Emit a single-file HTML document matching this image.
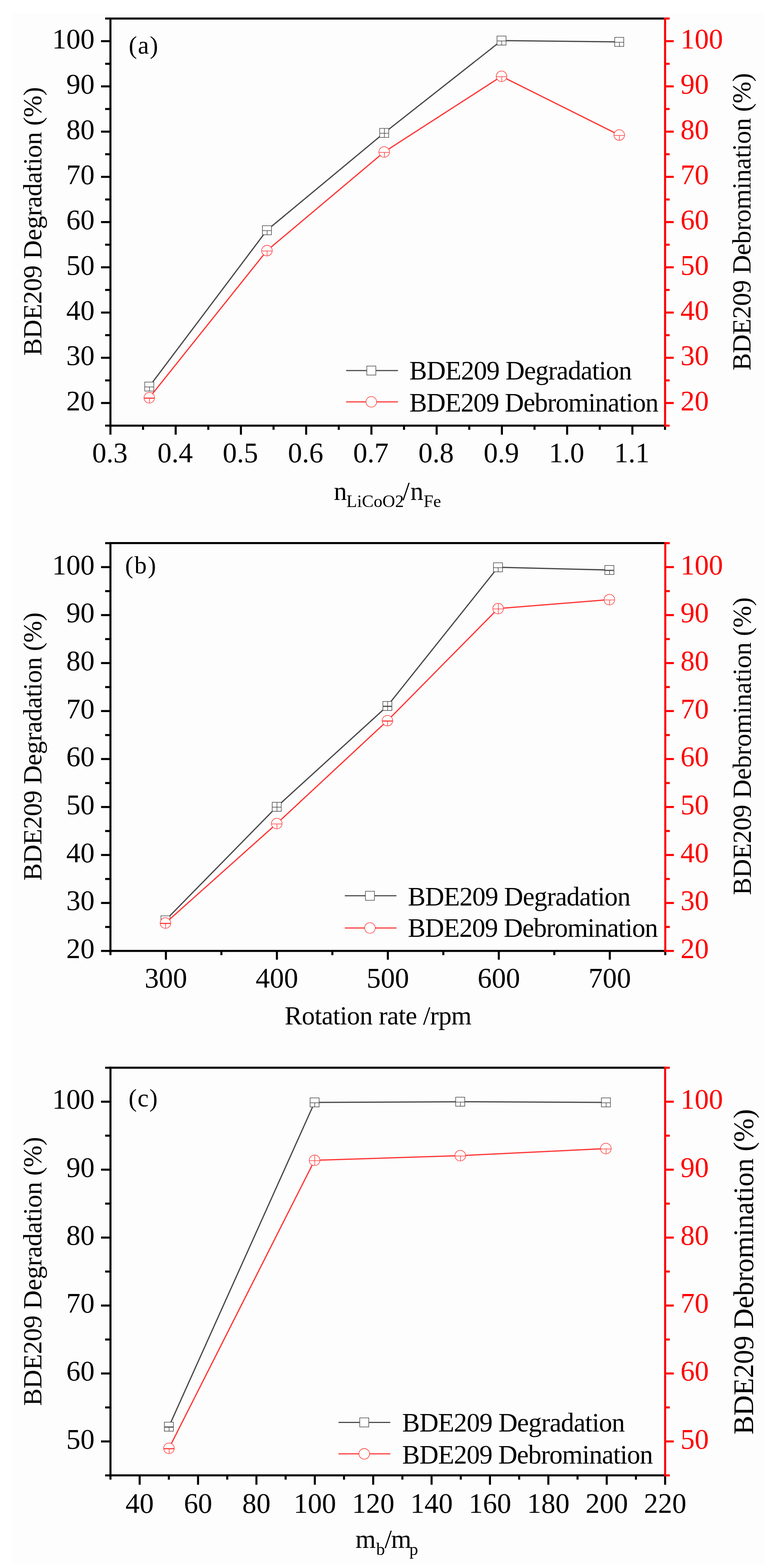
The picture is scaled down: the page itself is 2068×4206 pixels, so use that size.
<!DOCTYPE html>
<html lang="en">
<head>
<meta charset="utf-8">
<title>BDE209 degradation and debromination</title>
<style>
html,body{margin:0;padding:0;background:#fff;}
body{width:2068px;height:4206px;overflow:hidden;}
svg{display:block;}
text{font-family:'Liberation Serif','Times New Roman',serif;}
</style>
</head>
<body>
<svg width="2068" height="4206" viewBox="0 0 2068 4206" font-family="'Liberation Serif','Times New Roman',serif">
<rect width="2068" height="4206" fill="#fff"/>
<rect x="34" y="35" width="2018" height="4162" fill="#fdfdfd"/>
<polyline points="400.4,1036.9 716,617.6 1030.5,356.5 1345.2,108.8 1660.9,112.4" fill="none" stroke="#484848" stroke-width="3.3" stroke-linejoin="round"/>
<rect x="388.3" y="1024.8" width="24.2" height="24.2" fill="#fff" stroke="#484848" stroke-width="1.55"/>
<line x1="388.3" y1="1037.9" x2="412.5" y2="1037.9" stroke="#484848" stroke-width="1.55" stroke-linecap="butt"/>
<line x1="400.9" y1="1037.9" x2="400.9" y2="1049" stroke="#484848" stroke-width="1.55" stroke-linecap="butt"/>
<rect x="703.9" y="605.5" width="24.2" height="24.2" fill="#fff" stroke="#484848" stroke-width="1.55"/>
<line x1="703.9" y1="618.6" x2="728.1" y2="618.6" stroke="#484848" stroke-width="1.55" stroke-linecap="butt"/>
<line x1="716.5" y1="618.6" x2="716.5" y2="629.7" stroke="#484848" stroke-width="1.55" stroke-linecap="butt"/>
<rect x="1018.4" y="344.4" width="24.2" height="24.2" fill="#fff" stroke="#484848" stroke-width="1.55"/>
<line x1="1018.4" y1="357.5" x2="1042.6" y2="357.5" stroke="#484848" stroke-width="1.55" stroke-linecap="butt"/>
<line x1="1031" y1="344.4" x2="1031" y2="368.6" stroke="#484848" stroke-width="1.55" stroke-linecap="butt"/>
<rect x="1333.1" y="96.7" width="24.2" height="24.2" fill="#fff" stroke="#484848" stroke-width="1.55"/>
<line x1="1333.1" y1="109.8" x2="1357.3" y2="109.8" stroke="#484848" stroke-width="1.55" stroke-linecap="butt"/>
<line x1="1345.7" y1="109.8" x2="1345.7" y2="120.8" stroke="#484848" stroke-width="1.55" stroke-linecap="butt"/>
<rect x="1648.8" y="100.3" width="24.2" height="24.2" fill="#fff" stroke="#484848" stroke-width="1.55"/>
<line x1="1648.8" y1="113.4" x2="1673" y2="113.4" stroke="#484848" stroke-width="1.55" stroke-linecap="butt"/>
<line x1="1661.4" y1="113.4" x2="1661.4" y2="124.5" stroke="#484848" stroke-width="1.55" stroke-linecap="butt"/>
<polyline points="400.4,1067 716,672.3 1030.5,407.7 1345.2,204.7 1660.9,362.3" fill="none" stroke="#ff3636" stroke-width="3.3" stroke-linejoin="round"/>
<circle cx="400.4" cy="1067" r="14.2" fill="#fff" stroke="#ff3636" stroke-width="1.55"/>
<line x1="386.2" y1="1068" x2="414.6" y2="1068" stroke="#ff3636" stroke-width="3" stroke-linecap="butt"/>
<line x1="400.9" y1="1068" x2="400.9" y2="1081.2" stroke="#ff3636" stroke-width="1.55" stroke-linecap="butt"/>
<circle cx="716" cy="672.3" r="14.2" fill="#fff" stroke="#ff3636" stroke-width="1.55"/>
<line x1="701.8" y1="673.3" x2="730.2" y2="673.3" stroke="#ff3636" stroke-width="1.55" stroke-linecap="butt"/>
<line x1="716.5" y1="673.3" x2="716.5" y2="686.5" stroke="#ff3636" stroke-width="1.55" stroke-linecap="butt"/>
<circle cx="1030.5" cy="407.7" r="14.2" fill="#fff" stroke="#ff3636" stroke-width="1.55"/>
<line x1="1016.3" y1="408.7" x2="1044.7" y2="408.7" stroke="#ff3636" stroke-width="1.55" stroke-linecap="butt"/>
<line x1="1031" y1="408.7" x2="1031" y2="421.9" stroke="#ff3636" stroke-width="1.55" stroke-linecap="butt"/>
<circle cx="1345.2" cy="204.7" r="14.2" fill="#fff" stroke="#ff3636" stroke-width="1.55"/>
<line x1="1331" y1="205.7" x2="1359.5" y2="205.7" stroke="#ff3636" stroke-width="1.55" stroke-linecap="butt"/>
<line x1="1345.8" y1="205.7" x2="1345.8" y2="218.9" stroke="#ff3636" stroke-width="1.55" stroke-linecap="butt"/>
<circle cx="1660.9" cy="362.3" r="14.2" fill="#fff" stroke="#ff3636" stroke-width="1.55"/>
<line x1="1646.7" y1="363.3" x2="1675.1" y2="363.3" stroke="#ff3636" stroke-width="1.55" stroke-linecap="butt"/>
<line x1="1661.4" y1="363.3" x2="1661.4" y2="376.5" stroke="#ff3636" stroke-width="1.55" stroke-linecap="butt"/>
<line x1="293.4" y1="49.8" x2="1783.9" y2="49.8" stroke="#000" stroke-width="5.5" stroke-linecap="butt"/>
<line x1="293.4" y1="1141.7" x2="1783.9" y2="1141.7" stroke="#000" stroke-width="5.5" stroke-linecap="butt"/>
<line x1="296.2" y1="47" x2="296.2" y2="1144.5" stroke="#000" stroke-width="5.5" stroke-linecap="butt"/>
<line x1="271" y1="1081" x2="296.2" y2="1081" stroke="#000" stroke-width="5.5" stroke-linecap="butt"/>
<line x1="271" y1="959.7" x2="296.2" y2="959.7" stroke="#000" stroke-width="5.5" stroke-linecap="butt"/>
<line x1="271" y1="838.4" x2="296.2" y2="838.4" stroke="#000" stroke-width="5.5" stroke-linecap="butt"/>
<line x1="271" y1="717" x2="296.2" y2="717" stroke="#000" stroke-width="5.5" stroke-linecap="butt"/>
<line x1="271" y1="595.7" x2="296.2" y2="595.7" stroke="#000" stroke-width="5.5" stroke-linecap="butt"/>
<line x1="271" y1="474.4" x2="296.2" y2="474.4" stroke="#000" stroke-width="5.5" stroke-linecap="butt"/>
<line x1="271" y1="353.1" x2="296.2" y2="353.1" stroke="#000" stroke-width="5.5" stroke-linecap="butt"/>
<line x1="271" y1="231.7" x2="296.2" y2="231.7" stroke="#000" stroke-width="5.5" stroke-linecap="butt"/>
<line x1="271" y1="110.4" x2="296.2" y2="110.4" stroke="#000" stroke-width="5.5" stroke-linecap="butt"/>
<line x1="282" y1="1141.7" x2="296.2" y2="1141.7" stroke="#000" stroke-width="5.5" stroke-linecap="butt"/>
<line x1="282" y1="1020.4" x2="296.2" y2="1020.4" stroke="#000" stroke-width="5.5" stroke-linecap="butt"/>
<line x1="282" y1="899" x2="296.2" y2="899" stroke="#000" stroke-width="5.5" stroke-linecap="butt"/>
<line x1="282" y1="777.7" x2="296.2" y2="777.7" stroke="#000" stroke-width="5.5" stroke-linecap="butt"/>
<line x1="282" y1="656.4" x2="296.2" y2="656.4" stroke="#000" stroke-width="5.5" stroke-linecap="butt"/>
<line x1="282" y1="535.1" x2="296.2" y2="535.1" stroke="#000" stroke-width="5.5" stroke-linecap="butt"/>
<line x1="282" y1="413.7" x2="296.2" y2="413.7" stroke="#000" stroke-width="5.5" stroke-linecap="butt"/>
<line x1="282" y1="292.4" x2="296.2" y2="292.4" stroke="#000" stroke-width="5.5" stroke-linecap="butt"/>
<line x1="282" y1="171.1" x2="296.2" y2="171.1" stroke="#000" stroke-width="5.5" stroke-linecap="butt"/>
<line x1="282" y1="49.7" x2="296.2" y2="49.7" stroke="#000" stroke-width="5.5" stroke-linecap="butt"/>
<line x1="296.2" y1="1141.7" x2="296.2" y2="1166" stroke="#000" stroke-width="5.5" stroke-linecap="butt"/>
<line x1="471.2" y1="1141.7" x2="471.2" y2="1166" stroke="#000" stroke-width="5.5" stroke-linecap="butt"/>
<line x1="646.2" y1="1141.7" x2="646.2" y2="1166" stroke="#000" stroke-width="5.5" stroke-linecap="butt"/>
<line x1="821.2" y1="1141.7" x2="821.2" y2="1166" stroke="#000" stroke-width="5.5" stroke-linecap="butt"/>
<line x1="996.2" y1="1141.7" x2="996.2" y2="1166" stroke="#000" stroke-width="5.5" stroke-linecap="butt"/>
<line x1="1171.2" y1="1141.7" x2="1171.2" y2="1166" stroke="#000" stroke-width="5.5" stroke-linecap="butt"/>
<line x1="1346.2" y1="1141.7" x2="1346.2" y2="1166" stroke="#000" stroke-width="5.5" stroke-linecap="butt"/>
<line x1="1521.2" y1="1141.7" x2="1521.2" y2="1166" stroke="#000" stroke-width="5.5" stroke-linecap="butt"/>
<line x1="1696.2" y1="1141.7" x2="1696.2" y2="1166" stroke="#000" stroke-width="5.5" stroke-linecap="butt"/>
<line x1="383.7" y1="1141.7" x2="383.7" y2="1153" stroke="#000" stroke-width="5.5" stroke-linecap="butt"/>
<line x1="558.7" y1="1141.7" x2="558.7" y2="1153" stroke="#000" stroke-width="5.5" stroke-linecap="butt"/>
<line x1="733.7" y1="1141.7" x2="733.7" y2="1153" stroke="#000" stroke-width="5.5" stroke-linecap="butt"/>
<line x1="908.7" y1="1141.7" x2="908.7" y2="1153" stroke="#000" stroke-width="5.5" stroke-linecap="butt"/>
<line x1="1083.7" y1="1141.7" x2="1083.7" y2="1153" stroke="#000" stroke-width="5.5" stroke-linecap="butt"/>
<line x1="1258.7" y1="1141.7" x2="1258.7" y2="1153" stroke="#000" stroke-width="5.5" stroke-linecap="butt"/>
<line x1="1433.7" y1="1141.7" x2="1433.7" y2="1153" stroke="#000" stroke-width="5.5" stroke-linecap="butt"/>
<line x1="1608.7" y1="1141.7" x2="1608.7" y2="1153" stroke="#000" stroke-width="5.5" stroke-linecap="butt"/>
<line x1="1783.7" y1="1141.7" x2="1783.7" y2="1153" stroke="#000" stroke-width="5.5" stroke-linecap="butt"/>
<line x1="1783.9" y1="47" x2="1783.9" y2="1144.5" stroke="#ff0000" stroke-width="5.5" stroke-linecap="butt"/>
<line x1="1783.9" y1="1081" x2="1807.1" y2="1081" stroke="#ff0000" stroke-width="5.5" stroke-linecap="butt"/>
<line x1="1783.9" y1="959.7" x2="1807.1" y2="959.7" stroke="#ff0000" stroke-width="5.5" stroke-linecap="butt"/>
<line x1="1783.9" y1="838.4" x2="1807.1" y2="838.4" stroke="#ff0000" stroke-width="5.5" stroke-linecap="butt"/>
<line x1="1783.9" y1="717" x2="1807.1" y2="717" stroke="#ff0000" stroke-width="5.5" stroke-linecap="butt"/>
<line x1="1783.9" y1="595.7" x2="1807.1" y2="595.7" stroke="#ff0000" stroke-width="5.5" stroke-linecap="butt"/>
<line x1="1783.9" y1="474.4" x2="1807.1" y2="474.4" stroke="#ff0000" stroke-width="5.5" stroke-linecap="butt"/>
<line x1="1783.9" y1="353.1" x2="1807.1" y2="353.1" stroke="#ff0000" stroke-width="5.5" stroke-linecap="butt"/>
<line x1="1783.9" y1="231.7" x2="1807.1" y2="231.7" stroke="#ff0000" stroke-width="5.5" stroke-linecap="butt"/>
<line x1="1783.9" y1="110.4" x2="1807.1" y2="110.4" stroke="#ff0000" stroke-width="5.5" stroke-linecap="butt"/>
<line x1="1783.9" y1="1141.7" x2="1796.1" y2="1141.7" stroke="#ff0000" stroke-width="5.5" stroke-linecap="butt"/>
<line x1="1783.9" y1="1020.4" x2="1796.1" y2="1020.4" stroke="#ff0000" stroke-width="5.5" stroke-linecap="butt"/>
<line x1="1783.9" y1="899" x2="1796.1" y2="899" stroke="#ff0000" stroke-width="5.5" stroke-linecap="butt"/>
<line x1="1783.9" y1="777.7" x2="1796.1" y2="777.7" stroke="#ff0000" stroke-width="5.5" stroke-linecap="butt"/>
<line x1="1783.9" y1="656.4" x2="1796.1" y2="656.4" stroke="#ff0000" stroke-width="5.5" stroke-linecap="butt"/>
<line x1="1783.9" y1="535.1" x2="1796.1" y2="535.1" stroke="#ff0000" stroke-width="5.5" stroke-linecap="butt"/>
<line x1="1783.9" y1="413.7" x2="1796.1" y2="413.7" stroke="#ff0000" stroke-width="5.5" stroke-linecap="butt"/>
<line x1="1783.9" y1="292.4" x2="1796.1" y2="292.4" stroke="#ff0000" stroke-width="5.5" stroke-linecap="butt"/>
<line x1="1783.9" y1="171.1" x2="1796.1" y2="171.1" stroke="#ff0000" stroke-width="5.5" stroke-linecap="butt"/>
<line x1="1783.9" y1="49.7" x2="1796.1" y2="49.7" stroke="#ff0000" stroke-width="5.5" stroke-linecap="butt"/>
<text x="253.8" y="1100.6" font-size="76" text-anchor="end">20</text>
<text x="1825.2" y="1100.6" font-size="76" fill="#ff0000">20</text>
<text x="253.8" y="979.3" font-size="76" text-anchor="end">30</text>
<text x="1825.2" y="979.3" font-size="76" fill="#ff0000">30</text>
<text x="253.8" y="858" font-size="76" text-anchor="end">40</text>
<text x="1825.2" y="858" font-size="76" fill="#ff0000">40</text>
<text x="253.8" y="736.6" font-size="76" text-anchor="end">50</text>
<text x="1825.2" y="736.6" font-size="76" fill="#ff0000">50</text>
<text x="253.8" y="615.3" font-size="76" text-anchor="end">60</text>
<text x="1825.2" y="615.3" font-size="76" fill="#ff0000">60</text>
<text x="253.8" y="494" font-size="76" text-anchor="end">70</text>
<text x="1825.2" y="494" font-size="76" fill="#ff0000">70</text>
<text x="253.8" y="372.7" font-size="76" text-anchor="end">80</text>
<text x="1825.2" y="372.7" font-size="76" fill="#ff0000">80</text>
<text x="253.8" y="251.3" font-size="76" text-anchor="end">90</text>
<text x="1825.2" y="251.3" font-size="76" fill="#ff0000">90</text>
<text x="253.8" y="130" font-size="76" text-anchor="end">100</text>
<text x="1825.2" y="130" font-size="76" fill="#ff0000">100</text>
<text x="294.7" y="1240.3" font-size="76" text-anchor="middle">0.3</text>
<text x="469.7" y="1240.3" font-size="76" text-anchor="middle">0.4</text>
<text x="644.7" y="1240.3" font-size="76" text-anchor="middle">0.5</text>
<text x="819.7" y="1240.3" font-size="76" text-anchor="middle">0.6</text>
<text x="994.7" y="1240.3" font-size="76" text-anchor="middle">0.7</text>
<text x="1169.7" y="1240.3" font-size="76" text-anchor="middle">0.8</text>
<text x="1344.7" y="1240.3" font-size="76" text-anchor="middle">0.9</text>
<text x="1519.7" y="1240.3" font-size="76" text-anchor="middle">1.0</text>
<text x="1694.7" y="1240.3" font-size="76" text-anchor="middle">1.1</text>
<line x1="928.4" y1="994" x2="1067.4" y2="994" stroke="#484848" stroke-width="3" stroke-linecap="butt"/>
<rect x="983.9" y="981.9" width="24.2" height="24.2" fill="#fff" stroke="#484848" stroke-width="1.55"/>
<line x1="928.4" y1="1078" x2="1067.4" y2="1078" stroke="#ff3636" stroke-width="3" stroke-linecap="butt"/>
<circle cx="996" cy="1078" r="14.2" fill="#fff" stroke="#ff3636" stroke-width="1.55"/>
<text x="1098" y="1017.7" font-size="71" textLength="596.9" lengthAdjust="spacing">BDE209 Degradation</text>
<text x="1098" y="1104.1" font-size="71" textLength="668.5" lengthAdjust="spacing">BDE209 Debromination</text>
<text x="345.3" y="143.5" font-size="67" textLength="78.7" lengthAdjust="spacing">(a)</text>
<text transform="translate(110.8,954.1) rotate(-90)" font-size="70" textLength="720.7" lengthAdjust="spacing">BDE209 Degradation (%)</text>
<text transform="translate(2013.3,993.7) rotate(-90)" font-size="70" textLength="797.7" lengthAdjust="spacing">BDE209 Debromination (%)</text>
<text x="895.6" y="1341.2" font-size="70">n</text>
<text x="929.1" y="1359.7" font-size="47">LiCoO2</text>
<text x="1079.5" y="1341.2" font-size="70">/</text>
<text x="1100.7" y="1341.2" font-size="70">n</text>
<text x="1136.2" y="1359.7" font-size="47">Fe</text>
<polyline points="443.8,2468.7 742.3,2164.2 1039.1,1893.7 1335.7,1521.7 1634.5,1529" fill="none" stroke="#484848" stroke-width="3.3" stroke-linejoin="round"/>
<rect x="431.7" y="2456.6" width="24.2" height="24.2" fill="#fff" stroke="#484848" stroke-width="1.55"/>
<line x1="431.7" y1="2469.7" x2="455.9" y2="2469.7" stroke="#484848" stroke-width="1.55" stroke-linecap="butt"/>
<line x1="444.3" y1="2469.7" x2="444.3" y2="2480.8" stroke="#484848" stroke-width="1.55" stroke-linecap="butt"/>
<rect x="730.2" y="2152.1" width="24.2" height="24.2" fill="#fff" stroke="#484848" stroke-width="1.55"/>
<line x1="730.2" y1="2165.2" x2="754.4" y2="2165.2" stroke="#484848" stroke-width="1.55" stroke-linecap="butt"/>
<line x1="742.8" y1="2152.1" x2="742.8" y2="2176.3" stroke="#484848" stroke-width="1.55" stroke-linecap="butt"/>
<rect x="1027" y="1881.6" width="24.2" height="24.2" fill="#fff" stroke="#484848" stroke-width="1.55"/>
<line x1="1027" y1="1894.7" x2="1051.2" y2="1894.7" stroke="#484848" stroke-width="3" stroke-linecap="butt"/>
<line x1="1039.6" y1="1881.6" x2="1039.6" y2="1905.8" stroke="#484848" stroke-width="1.55" stroke-linecap="butt"/>
<rect x="1323.6" y="1509.6" width="24.2" height="24.2" fill="#fff" stroke="#484848" stroke-width="1.55"/>
<line x1="1323.6" y1="1522.7" x2="1347.8" y2="1522.7" stroke="#484848" stroke-width="1.55" stroke-linecap="butt"/>
<line x1="1336.2" y1="1522.7" x2="1336.2" y2="1533.8" stroke="#484848" stroke-width="1.55" stroke-linecap="butt"/>
<rect x="1622.4" y="1516.9" width="24.2" height="24.2" fill="#fff" stroke="#484848" stroke-width="1.55"/>
<line x1="1622.4" y1="1530" x2="1646.6" y2="1530" stroke="#484848" stroke-width="3" stroke-linecap="butt"/>
<line x1="1635" y1="1530" x2="1635" y2="1541.1" stroke="#484848" stroke-width="1.55" stroke-linecap="butt"/>
<polyline points="443.8,2476 742.3,2209.2 1039.2,1933.1 1336.1,1632.4 1634.5,1608.4" fill="none" stroke="#ff3636" stroke-width="3.3" stroke-linejoin="round"/>
<circle cx="443.8" cy="2476" r="14.2" fill="#fff" stroke="#ff3636" stroke-width="1.55"/>
<line x1="429.6" y1="2477" x2="458" y2="2477" stroke="#ff3636" stroke-width="3" stroke-linecap="butt"/>
<line x1="444.3" y1="2477" x2="444.3" y2="2490.2" stroke="#ff3636" stroke-width="1.55" stroke-linecap="butt"/>
<circle cx="742.3" cy="2209.2" r="14.2" fill="#fff" stroke="#ff3636" stroke-width="1.55"/>
<line x1="728.1" y1="2210.2" x2="756.5" y2="2210.2" stroke="#ff3636" stroke-width="1.55" stroke-linecap="butt"/>
<line x1="742.8" y1="2210.2" x2="742.8" y2="2223.4" stroke="#ff3636" stroke-width="1.55" stroke-linecap="butt"/>
<circle cx="1039.2" cy="1933.1" r="14.2" fill="#fff" stroke="#ff3636" stroke-width="1.55"/>
<line x1="1025" y1="1934.1" x2="1053.4" y2="1934.1" stroke="#ff3636" stroke-width="3" stroke-linecap="butt"/>
<line x1="1039.7" y1="1934.1" x2="1039.7" y2="1947.3" stroke="#ff3636" stroke-width="1.55" stroke-linecap="butt"/>
<circle cx="1336.1" cy="1632.4" r="14.2" fill="#fff" stroke="#ff3636" stroke-width="1.55"/>
<line x1="1321.9" y1="1633.4" x2="1350.3" y2="1633.4" stroke="#ff3636" stroke-width="1.55" stroke-linecap="butt"/>
<line x1="1336.6" y1="1618.2" x2="1336.6" y2="1646.6" stroke="#ff3636" stroke-width="1.55" stroke-linecap="butt"/>
<circle cx="1634.5" cy="1608.4" r="14.2" fill="#fff" stroke="#ff3636" stroke-width="1.55"/>
<line x1="1620.3" y1="1609.4" x2="1648.7" y2="1609.4" stroke="#ff3636" stroke-width="1.55" stroke-linecap="butt"/>
<line x1="1635" y1="1609.4" x2="1635" y2="1622.6" stroke="#ff3636" stroke-width="1.55" stroke-linecap="butt"/>
<line x1="293.4" y1="1456.7" x2="1784.4" y2="1456.7" stroke="#000" stroke-width="5.5" stroke-linecap="butt"/>
<line x1="293.4" y1="2550.8" x2="1784.4" y2="2550.8" stroke="#000" stroke-width="5.5" stroke-linecap="butt"/>
<line x1="296.2" y1="1454" x2="296.2" y2="2553.6" stroke="#000" stroke-width="5.5" stroke-linecap="butt"/>
<line x1="271" y1="2550.8" x2="296.2" y2="2550.8" stroke="#000" stroke-width="5.5" stroke-linecap="butt"/>
<line x1="271" y1="2422.1" x2="296.2" y2="2422.1" stroke="#000" stroke-width="5.5" stroke-linecap="butt"/>
<line x1="271" y1="2293.4" x2="296.2" y2="2293.4" stroke="#000" stroke-width="5.5" stroke-linecap="butt"/>
<line x1="271" y1="2164.7" x2="296.2" y2="2164.7" stroke="#000" stroke-width="5.5" stroke-linecap="butt"/>
<line x1="271" y1="2036" x2="296.2" y2="2036" stroke="#000" stroke-width="5.5" stroke-linecap="butt"/>
<line x1="271" y1="1907.3" x2="296.2" y2="1907.3" stroke="#000" stroke-width="5.5" stroke-linecap="butt"/>
<line x1="271" y1="1778.6" x2="296.2" y2="1778.6" stroke="#000" stroke-width="5.5" stroke-linecap="butt"/>
<line x1="271" y1="1649.9" x2="296.2" y2="1649.9" stroke="#000" stroke-width="5.5" stroke-linecap="butt"/>
<line x1="271" y1="1521.2" x2="296.2" y2="1521.2" stroke="#000" stroke-width="5.5" stroke-linecap="butt"/>
<line x1="282" y1="2486.5" x2="296.2" y2="2486.5" stroke="#000" stroke-width="5.5" stroke-linecap="butt"/>
<line x1="282" y1="2357.8" x2="296.2" y2="2357.8" stroke="#000" stroke-width="5.5" stroke-linecap="butt"/>
<line x1="282" y1="2229.1" x2="296.2" y2="2229.1" stroke="#000" stroke-width="5.5" stroke-linecap="butt"/>
<line x1="282" y1="2100.4" x2="296.2" y2="2100.4" stroke="#000" stroke-width="5.5" stroke-linecap="butt"/>
<line x1="282" y1="1971.7" x2="296.2" y2="1971.7" stroke="#000" stroke-width="5.5" stroke-linecap="butt"/>
<line x1="282" y1="1843" x2="296.2" y2="1843" stroke="#000" stroke-width="5.5" stroke-linecap="butt"/>
<line x1="282" y1="1714.3" x2="296.2" y2="1714.3" stroke="#000" stroke-width="5.5" stroke-linecap="butt"/>
<line x1="282" y1="1585.6" x2="296.2" y2="1585.6" stroke="#000" stroke-width="5.5" stroke-linecap="butt"/>
<line x1="282" y1="1456.9" x2="296.2" y2="1456.9" stroke="#000" stroke-width="5.5" stroke-linecap="butt"/>
<line x1="445" y1="2550.8" x2="445" y2="2574.3" stroke="#000" stroke-width="5.5" stroke-linecap="butt"/>
<line x1="742.7" y1="2550.8" x2="742.7" y2="2574.3" stroke="#000" stroke-width="5.5" stroke-linecap="butt"/>
<line x1="1040.3" y1="2550.8" x2="1040.3" y2="2574.3" stroke="#000" stroke-width="5.5" stroke-linecap="butt"/>
<line x1="1337.9" y1="2550.8" x2="1337.9" y2="2574.3" stroke="#000" stroke-width="5.5" stroke-linecap="butt"/>
<line x1="1635.6" y1="2550.8" x2="1635.6" y2="2574.3" stroke="#000" stroke-width="5.5" stroke-linecap="butt"/>
<line x1="296.2" y1="2550.8" x2="296.2" y2="2562.1" stroke="#000" stroke-width="5.5" stroke-linecap="butt"/>
<line x1="593.8" y1="2550.8" x2="593.8" y2="2562.1" stroke="#000" stroke-width="5.5" stroke-linecap="butt"/>
<line x1="891.5" y1="2550.8" x2="891.5" y2="2562.1" stroke="#000" stroke-width="5.5" stroke-linecap="butt"/>
<line x1="1189.1" y1="2550.8" x2="1189.1" y2="2562.1" stroke="#000" stroke-width="5.5" stroke-linecap="butt"/>
<line x1="1486.8" y1="2550.8" x2="1486.8" y2="2562.1" stroke="#000" stroke-width="5.5" stroke-linecap="butt"/>
<line x1="1784.4" y1="2550.8" x2="1784.4" y2="2562.1" stroke="#000" stroke-width="5.5" stroke-linecap="butt"/>
<line x1="1784.4" y1="1454" x2="1784.4" y2="2553.6" stroke="#ff0000" stroke-width="5.5" stroke-linecap="butt"/>
<line x1="1784.4" y1="2550.8" x2="1807.6" y2="2550.8" stroke="#ff0000" stroke-width="5.5" stroke-linecap="butt"/>
<line x1="1784.4" y1="2422.1" x2="1807.6" y2="2422.1" stroke="#ff0000" stroke-width="5.5" stroke-linecap="butt"/>
<line x1="1784.4" y1="2293.4" x2="1807.6" y2="2293.4" stroke="#ff0000" stroke-width="5.5" stroke-linecap="butt"/>
<line x1="1784.4" y1="2164.7" x2="1807.6" y2="2164.7" stroke="#ff0000" stroke-width="5.5" stroke-linecap="butt"/>
<line x1="1784.4" y1="2036" x2="1807.6" y2="2036" stroke="#ff0000" stroke-width="5.5" stroke-linecap="butt"/>
<line x1="1784.4" y1="1907.3" x2="1807.6" y2="1907.3" stroke="#ff0000" stroke-width="5.5" stroke-linecap="butt"/>
<line x1="1784.4" y1="1778.6" x2="1807.6" y2="1778.6" stroke="#ff0000" stroke-width="5.5" stroke-linecap="butt"/>
<line x1="1784.4" y1="1649.9" x2="1807.6" y2="1649.9" stroke="#ff0000" stroke-width="5.5" stroke-linecap="butt"/>
<line x1="1784.4" y1="1521.2" x2="1807.6" y2="1521.2" stroke="#ff0000" stroke-width="5.5" stroke-linecap="butt"/>
<line x1="1784.4" y1="2486.5" x2="1796.6" y2="2486.5" stroke="#ff0000" stroke-width="5.5" stroke-linecap="butt"/>
<line x1="1784.4" y1="2357.8" x2="1796.6" y2="2357.8" stroke="#ff0000" stroke-width="5.5" stroke-linecap="butt"/>
<line x1="1784.4" y1="2229.1" x2="1796.6" y2="2229.1" stroke="#ff0000" stroke-width="5.5" stroke-linecap="butt"/>
<line x1="1784.4" y1="2100.4" x2="1796.6" y2="2100.4" stroke="#ff0000" stroke-width="5.5" stroke-linecap="butt"/>
<line x1="1784.4" y1="1971.7" x2="1796.6" y2="1971.7" stroke="#ff0000" stroke-width="5.5" stroke-linecap="butt"/>
<line x1="1784.4" y1="1843" x2="1796.6" y2="1843" stroke="#ff0000" stroke-width="5.5" stroke-linecap="butt"/>
<line x1="1784.4" y1="1714.3" x2="1796.6" y2="1714.3" stroke="#ff0000" stroke-width="5.5" stroke-linecap="butt"/>
<line x1="1784.4" y1="1585.6" x2="1796.6" y2="1585.6" stroke="#ff0000" stroke-width="5.5" stroke-linecap="butt"/>
<line x1="1784.4" y1="1456.9" x2="1796.6" y2="1456.9" stroke="#ff0000" stroke-width="5.5" stroke-linecap="butt"/>
<text x="253.8" y="2570.1" font-size="76" text-anchor="end">20</text>
<text x="1825.2" y="2570.1" font-size="76" fill="#ff0000">20</text>
<text x="253.8" y="2441.4" font-size="76" text-anchor="end">30</text>
<text x="1825.2" y="2441.4" font-size="76" fill="#ff0000">30</text>
<text x="253.8" y="2312.7" font-size="76" text-anchor="end">40</text>
<text x="1825.2" y="2312.7" font-size="76" fill="#ff0000">40</text>
<text x="253.8" y="2184" font-size="76" text-anchor="end">50</text>
<text x="1825.2" y="2184" font-size="76" fill="#ff0000">50</text>
<text x="253.8" y="2055.3" font-size="76" text-anchor="end">60</text>
<text x="1825.2" y="2055.3" font-size="76" fill="#ff0000">60</text>
<text x="253.8" y="1926.6" font-size="76" text-anchor="end">70</text>
<text x="1825.2" y="1926.6" font-size="76" fill="#ff0000">70</text>
<text x="253.8" y="1797.9" font-size="76" text-anchor="end">80</text>
<text x="1825.2" y="1797.9" font-size="76" fill="#ff0000">80</text>
<text x="253.8" y="1669.2" font-size="76" text-anchor="end">90</text>
<text x="1825.2" y="1669.2" font-size="76" fill="#ff0000">90</text>
<text x="253.8" y="1540.5" font-size="76" text-anchor="end">100</text>
<text x="1825.2" y="1540.5" font-size="76" fill="#ff0000">100</text>
<text x="445" y="2648.8" font-size="76" text-anchor="middle">300</text>
<text x="742.7" y="2648.8" font-size="76" text-anchor="middle">400</text>
<text x="1040.3" y="2648.8" font-size="76" text-anchor="middle">500</text>
<text x="1337.9" y="2648.8" font-size="76" text-anchor="middle">600</text>
<text x="1635.6" y="2648.8" font-size="76" text-anchor="middle">700</text>
<line x1="924.9" y1="2402.8" x2="1063.4" y2="2402.8" stroke="#484848" stroke-width="3" stroke-linecap="butt"/>
<rect x="980.2" y="2390.7" width="24.2" height="24.2" fill="#fff" stroke="#484848" stroke-width="1.55"/>
<line x1="924.9" y1="2489.2" x2="1063.4" y2="2489.2" stroke="#ff3636" stroke-width="3" stroke-linecap="butt"/>
<circle cx="992.3" cy="2489.2" r="14.2" fill="#fff" stroke="#ff3636" stroke-width="1.55"/>
<text x="1094" y="2428.8" font-size="71" textLength="597.4" lengthAdjust="spacing">BDE209 Degradation</text>
<text x="1094" y="2513.4" font-size="71" textLength="671.1" lengthAdjust="spacing">BDE209 Debromination</text>
<text x="335.5" y="1537.6" font-size="66" textLength="83.1" lengthAdjust="spacing">(b)</text>
<text transform="translate(110.8,2362.2) rotate(-90)" font-size="70" textLength="719.6" lengthAdjust="spacing">BDE209 Degradation (%)</text>
<text transform="translate(2014,2401.1) rotate(-90)" font-size="70" textLength="798.9" lengthAdjust="spacing">BDE209 Debromination (%)</text>
<text x="763.6" y="2748.1" font-size="70" textLength="501.3" lengthAdjust="spacing">Rotation rate /rpm</text>
<polyline points="453,3826.9 843.8,2957.1 1234.4,2955.3 1625.2,2957.1" fill="none" stroke="#484848" stroke-width="3.3" stroke-linejoin="round"/>
<rect x="440.9" y="3814.8" width="24.2" height="24.2" fill="#fff" stroke="#484848" stroke-width="1.55"/>
<line x1="440.9" y1="3827.9" x2="465.1" y2="3827.9" stroke="#484848" stroke-width="3" stroke-linecap="butt"/>
<line x1="453.5" y1="3827.9" x2="453.5" y2="3839" stroke="#484848" stroke-width="1.55" stroke-linecap="butt"/>
<rect x="831.7" y="2945" width="24.2" height="24.2" fill="#fff" stroke="#484848" stroke-width="1.55"/>
<line x1="831.7" y1="2958.1" x2="855.9" y2="2958.1" stroke="#484848" stroke-width="1.55" stroke-linecap="butt"/>
<line x1="844.3" y1="2958.1" x2="844.3" y2="2969.2" stroke="#484848" stroke-width="1.55" stroke-linecap="butt"/>
<rect x="1222.3" y="2943.2" width="24.2" height="24.2" fill="#fff" stroke="#484848" stroke-width="1.55"/>
<line x1="1222.3" y1="2956.3" x2="1246.5" y2="2956.3" stroke="#484848" stroke-width="1.55" stroke-linecap="butt"/>
<line x1="1234.9" y1="2956.3" x2="1234.9" y2="2967.4" stroke="#484848" stroke-width="1.55" stroke-linecap="butt"/>
<rect x="1613.1" y="2945" width="24.2" height="24.2" fill="#fff" stroke="#484848" stroke-width="1.55"/>
<line x1="1613.1" y1="2958.1" x2="1637.3" y2="2958.1" stroke="#484848" stroke-width="1.55" stroke-linecap="butt"/>
<line x1="1625.7" y1="2958.1" x2="1625.7" y2="2969.2" stroke="#484848" stroke-width="1.55" stroke-linecap="butt"/>
<polyline points="453.2,3885 843.8,3112.4 1234.5,3099.9 1625.1,3081" fill="none" stroke="#ff3636" stroke-width="3.3" stroke-linejoin="round"/>
<circle cx="453.2" cy="3885" r="14.2" fill="#fff" stroke="#ff3636" stroke-width="1.55"/>
<line x1="439" y1="3886" x2="467.4" y2="3886" stroke="#ff3636" stroke-width="3" stroke-linecap="butt"/>
<line x1="453.7" y1="3886" x2="453.7" y2="3899.2" stroke="#ff3636" stroke-width="1.55" stroke-linecap="butt"/>
<circle cx="843.8" cy="3112.4" r="14.2" fill="#fff" stroke="#ff3636" stroke-width="1.55"/>
<line x1="829.6" y1="3113.4" x2="858" y2="3113.4" stroke="#ff3636" stroke-width="1.55" stroke-linecap="butt"/>
<line x1="844.3" y1="3098.2" x2="844.3" y2="3126.6" stroke="#ff3636" stroke-width="1.55" stroke-linecap="butt"/>
<circle cx="1234.5" cy="3099.9" r="14.2" fill="#fff" stroke="#ff3636" stroke-width="1.55"/>
<line x1="1220.3" y1="3100.9" x2="1248.7" y2="3100.9" stroke="#ff3636" stroke-width="1.55" stroke-linecap="butt"/>
<line x1="1235" y1="3100.9" x2="1235" y2="3114.1" stroke="#ff3636" stroke-width="1.55" stroke-linecap="butt"/>
<circle cx="1625.1" cy="3081" r="14.2" fill="#fff" stroke="#ff3636" stroke-width="1.55"/>
<line x1="1610.9" y1="3082" x2="1639.3" y2="3082" stroke="#ff3636" stroke-width="1.55" stroke-linecap="butt"/>
<line x1="1625.6" y1="3082" x2="1625.6" y2="3095.2" stroke="#ff3636" stroke-width="1.55" stroke-linecap="butt"/>
<line x1="293.6" y1="2864.1" x2="1784" y2="2864.1" stroke="#000" stroke-width="5.5" stroke-linecap="butt"/>
<line x1="293.6" y1="3957.6" x2="1784" y2="3957.6" stroke="#000" stroke-width="5.5" stroke-linecap="butt"/>
<line x1="296.3" y1="2861.3" x2="296.3" y2="3960.3" stroke="#000" stroke-width="5.5" stroke-linecap="butt"/>
<line x1="271" y1="3866.5" x2="296.3" y2="3866.5" stroke="#000" stroke-width="5.5" stroke-linecap="butt"/>
<line x1="271" y1="3684.2" x2="296.3" y2="3684.2" stroke="#000" stroke-width="5.5" stroke-linecap="butt"/>
<line x1="271" y1="3502" x2="296.3" y2="3502" stroke="#000" stroke-width="5.5" stroke-linecap="butt"/>
<line x1="271" y1="3319.7" x2="296.3" y2="3319.7" stroke="#000" stroke-width="5.5" stroke-linecap="butt"/>
<line x1="271" y1="3137.5" x2="296.3" y2="3137.5" stroke="#000" stroke-width="5.5" stroke-linecap="butt"/>
<line x1="271" y1="2955.2" x2="296.3" y2="2955.2" stroke="#000" stroke-width="5.5" stroke-linecap="butt"/>
<line x1="282" y1="3957.6" x2="296.3" y2="3957.6" stroke="#000" stroke-width="5.5" stroke-linecap="butt"/>
<line x1="282" y1="3775.3" x2="296.3" y2="3775.3" stroke="#000" stroke-width="5.5" stroke-linecap="butt"/>
<line x1="282" y1="3593.1" x2="296.3" y2="3593.1" stroke="#000" stroke-width="5.5" stroke-linecap="butt"/>
<line x1="282" y1="3410.8" x2="296.3" y2="3410.8" stroke="#000" stroke-width="5.5" stroke-linecap="butt"/>
<line x1="282" y1="3228.6" x2="296.3" y2="3228.6" stroke="#000" stroke-width="5.5" stroke-linecap="butt"/>
<line x1="282" y1="3046.3" x2="296.3" y2="3046.3" stroke="#000" stroke-width="5.5" stroke-linecap="butt"/>
<line x1="282" y1="2864.1" x2="296.3" y2="2864.1" stroke="#000" stroke-width="5.5" stroke-linecap="butt"/>
<line x1="374.6" y1="3957.6" x2="374.6" y2="3982.6" stroke="#000" stroke-width="5.5" stroke-linecap="butt"/>
<line x1="531.2" y1="3957.6" x2="531.2" y2="3982.6" stroke="#000" stroke-width="5.5" stroke-linecap="butt"/>
<line x1="687.8" y1="3957.6" x2="687.8" y2="3982.6" stroke="#000" stroke-width="5.5" stroke-linecap="butt"/>
<line x1="844.4" y1="3957.6" x2="844.4" y2="3982.6" stroke="#000" stroke-width="5.5" stroke-linecap="butt"/>
<line x1="1001" y1="3957.6" x2="1001" y2="3982.6" stroke="#000" stroke-width="5.5" stroke-linecap="butt"/>
<line x1="1157.6" y1="3957.6" x2="1157.6" y2="3982.6" stroke="#000" stroke-width="5.5" stroke-linecap="butt"/>
<line x1="1314.2" y1="3957.6" x2="1314.2" y2="3982.6" stroke="#000" stroke-width="5.5" stroke-linecap="butt"/>
<line x1="1470.8" y1="3957.6" x2="1470.8" y2="3982.6" stroke="#000" stroke-width="5.5" stroke-linecap="butt"/>
<line x1="1627.4" y1="3957.6" x2="1627.4" y2="3982.6" stroke="#000" stroke-width="5.5" stroke-linecap="butt"/>
<line x1="1784" y1="3957.6" x2="1784" y2="3982.6" stroke="#000" stroke-width="5.5" stroke-linecap="butt"/>
<line x1="296.3" y1="3957.6" x2="296.3" y2="3969" stroke="#000" stroke-width="5.5" stroke-linecap="butt"/>
<line x1="452.9" y1="3957.6" x2="452.9" y2="3969" stroke="#000" stroke-width="5.5" stroke-linecap="butt"/>
<line x1="609.5" y1="3957.6" x2="609.5" y2="3969" stroke="#000" stroke-width="5.5" stroke-linecap="butt"/>
<line x1="766.1" y1="3957.6" x2="766.1" y2="3969" stroke="#000" stroke-width="5.5" stroke-linecap="butt"/>
<line x1="922.7" y1="3957.6" x2="922.7" y2="3969" stroke="#000" stroke-width="5.5" stroke-linecap="butt"/>
<line x1="1079.3" y1="3957.6" x2="1079.3" y2="3969" stroke="#000" stroke-width="5.5" stroke-linecap="butt"/>
<line x1="1235.9" y1="3957.6" x2="1235.9" y2="3969" stroke="#000" stroke-width="5.5" stroke-linecap="butt"/>
<line x1="1392.5" y1="3957.6" x2="1392.5" y2="3969" stroke="#000" stroke-width="5.5" stroke-linecap="butt"/>
<line x1="1549.1" y1="3957.6" x2="1549.1" y2="3969" stroke="#000" stroke-width="5.5" stroke-linecap="butt"/>
<line x1="1705.7" y1="3957.6" x2="1705.7" y2="3969" stroke="#000" stroke-width="5.5" stroke-linecap="butt"/>
<line x1="1784" y1="2861.3" x2="1784" y2="3960.3" stroke="#ff0000" stroke-width="5.5" stroke-linecap="butt"/>
<line x1="1784" y1="3866.5" x2="1807.2" y2="3866.5" stroke="#ff0000" stroke-width="5.5" stroke-linecap="butt"/>
<line x1="1784" y1="3684.2" x2="1807.2" y2="3684.2" stroke="#ff0000" stroke-width="5.5" stroke-linecap="butt"/>
<line x1="1784" y1="3502" x2="1807.2" y2="3502" stroke="#ff0000" stroke-width="5.5" stroke-linecap="butt"/>
<line x1="1784" y1="3319.7" x2="1807.2" y2="3319.7" stroke="#ff0000" stroke-width="5.5" stroke-linecap="butt"/>
<line x1="1784" y1="3137.5" x2="1807.2" y2="3137.5" stroke="#ff0000" stroke-width="5.5" stroke-linecap="butt"/>
<line x1="1784" y1="2955.2" x2="1807.2" y2="2955.2" stroke="#ff0000" stroke-width="5.5" stroke-linecap="butt"/>
<line x1="1784" y1="3957.6" x2="1796.5" y2="3957.6" stroke="#ff0000" stroke-width="5.5" stroke-linecap="butt"/>
<line x1="1784" y1="3775.3" x2="1796.5" y2="3775.3" stroke="#ff0000" stroke-width="5.5" stroke-linecap="butt"/>
<line x1="1784" y1="3593.1" x2="1796.5" y2="3593.1" stroke="#ff0000" stroke-width="5.5" stroke-linecap="butt"/>
<line x1="1784" y1="3410.8" x2="1796.5" y2="3410.8" stroke="#ff0000" stroke-width="5.5" stroke-linecap="butt"/>
<line x1="1784" y1="3228.6" x2="1796.5" y2="3228.6" stroke="#ff0000" stroke-width="5.5" stroke-linecap="butt"/>
<line x1="1784" y1="3046.3" x2="1796.5" y2="3046.3" stroke="#ff0000" stroke-width="5.5" stroke-linecap="butt"/>
<line x1="1784" y1="2864.1" x2="1796.5" y2="2864.1" stroke="#ff0000" stroke-width="5.5" stroke-linecap="butt"/>
<text x="253.8" y="3885.5" font-size="76" text-anchor="end">50</text>
<text x="1825.2" y="3885.5" font-size="76" fill="#ff0000">50</text>
<text x="253.8" y="3703.2" font-size="76" text-anchor="end">60</text>
<text x="1825.2" y="3703.2" font-size="76" fill="#ff0000">60</text>
<text x="253.8" y="3521" font-size="76" text-anchor="end">70</text>
<text x="1825.2" y="3521" font-size="76" fill="#ff0000">70</text>
<text x="253.8" y="3338.7" font-size="76" text-anchor="end">80</text>
<text x="1825.2" y="3338.7" font-size="76" fill="#ff0000">80</text>
<text x="253.8" y="3156.5" font-size="76" text-anchor="end">90</text>
<text x="1825.2" y="3156.5" font-size="76" fill="#ff0000">90</text>
<text x="253.8" y="2974.2" font-size="76" text-anchor="end">100</text>
<text x="1825.2" y="2974.2" font-size="76" fill="#ff0000">100</text>
<text x="374.6" y="4058.1" font-size="76" text-anchor="middle">40</text>
<text x="531.2" y="4058.1" font-size="76" text-anchor="middle">60</text>
<text x="687.8" y="4058.1" font-size="76" text-anchor="middle">80</text>
<text x="844.4" y="4058.1" font-size="76" text-anchor="middle">100</text>
<text x="1001" y="4058.1" font-size="76" text-anchor="middle">120</text>
<text x="1157.6" y="4058.1" font-size="76" text-anchor="middle">140</text>
<text x="1314.2" y="4058.1" font-size="76" text-anchor="middle">160</text>
<text x="1470.8" y="4058.1" font-size="76" text-anchor="middle">180</text>
<text x="1627.4" y="4058.1" font-size="76" text-anchor="middle">200</text>
<text x="1784" y="4058.1" font-size="76" text-anchor="middle">220</text>
<line x1="907.9" y1="3815.5" x2="1046.9" y2="3815.5" stroke="#484848" stroke-width="3" stroke-linecap="butt"/>
<rect x="964.9" y="3803.4" width="24.2" height="24.2" fill="#fff" stroke="#484848" stroke-width="1.55"/>
<line x1="907.9" y1="3899.8" x2="1046.9" y2="3899.8" stroke="#ff3636" stroke-width="3" stroke-linecap="butt"/>
<circle cx="977" cy="3899.8" r="14.2" fill="#fff" stroke="#ff3636" stroke-width="1.55"/>
<text x="1078.8" y="3839.9" font-size="71" textLength="597.5" lengthAdjust="spacing">BDE209 Degradation</text>
<text x="1078.8" y="3925.8" font-size="71" textLength="672.8" lengthAdjust="spacing">BDE209 Debromination</text>
<text x="344.8" y="2968" font-size="67" textLength="78.0" lengthAdjust="spacing">(c)</text>
<text transform="translate(110.8,3771) rotate(-90)" font-size="70" textLength="721.3" lengthAdjust="spacing">BDE209 Degradation (%)</text>
<text transform="translate(2019.5,3847.9) rotate(-90)" font-size="76" textLength="873.0" lengthAdjust="spacing">BDE209 Debromination (%)</text>
<text x="953.4" y="4152.3" font-size="70">m</text>
<text x="1008.9" y="4170.8" font-size="47">b</text>
<text x="1031.4" y="4152.3" font-size="70">/</text>
<text x="1048.9" y="4152.3" font-size="70">m</text>
<text x="1098.1" y="4170.8" font-size="47">p</text>
</svg>
</body>
</html>
